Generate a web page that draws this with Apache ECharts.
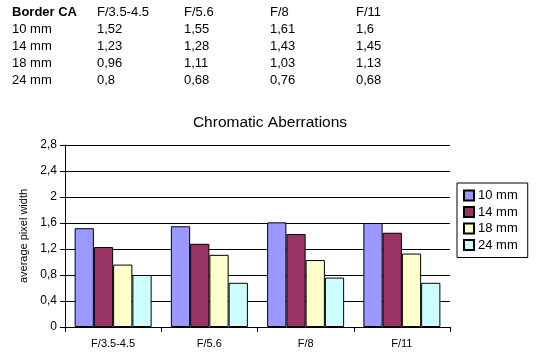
<!DOCTYPE html>
<html><head><meta charset="utf-8">
<script src="https://cdn.jsdelivr.net/npm/echarts@6/dist/echarts.min.js"></script>
<style>html,body{margin:0;padding:0;background:#fff}#c{width:540px;height:359px}</style>
</head><body><div id="c"></div>
<script>
const categories = ['F/3.5-4.5', 'F/5.6', 'F/8', 'F/11'];
const seriesNames = ['10 mm', '14 mm', '18 mm', '24 mm'];
const s10 = [1.52, 1.55, 1.61, 1.6];
const s14 = [1.23, 1.28, 1.43, 1.45];
const s18 = [0.96, 1.11, 1.03, 1.13];
const s24 = [0.8, 0.68, 0.76, 0.68];
const colors = ['#9999FF', '#993366', '#FFFFCC', '#CCFFFF'];
const tableHeader = 'Border CA';

const fmt = v => String(Math.round(v * 100) / 100).replace('.', ',');
const allSeries = [s10, s14, s18, s24];
const font = '"Liberation Sans", Arial, Helvetica, sans-serif';

// table as graphic text
const colX = [12, 97, 184, 270, 356];
const rowY = [6, 23, 40, 57, 74];
const graphics = [];
graphics.push({type: 'text', left: colX[0], top: rowY[0], style: {text: tableHeader, font: 'bold 13px ' + font, fill: '#000'}});
categories.forEach((c, j) => graphics.push({type: 'text', left: colX[j + 1], top: rowY[0], style: {text: c, font: '13px ' + font, fill: '#000'}}));
seriesNames.forEach((n, i) => {
  graphics.push({type: 'text', left: colX[0], top: rowY[i + 1], style: {text: n, font: '13px ' + font, fill: '#000'}});
  allSeries[i].forEach((v, j) => graphics.push({type: 'text', left: colX[j + 1], top: rowY[i + 1], style: {text: fmt(v), font: '13px ' + font, fill: '#000'}}));
});

const chart = echarts.init(document.getElementById('c'), null, {renderer: 'canvas'});
chart.setOption({
  animation: false,
  textStyle: {fontFamily: font},
  title: {text: 'Chromatic Aberrations', left: 'center', top: 110, itemGap: 0,
    textStyle: {fontSize: 15.5, fontWeight: 'normal', color: '#000', fontFamily: font}},
  legend: {orient: 'vertical', left: 457, top: 183, width: 70,
    padding: [6, 10, 6, 6], itemWidth: 10, itemHeight: 10, itemGap: 3.5,
    borderColor: '#000', borderWidth: 1, backgroundColor: '#fff',
    icon: 'rect',
    textStyle: {fontSize: 13, color: '#000', fontFamily: font, padding: [0, 0, 0, -1]},
    data: seriesNames},
  grid: {left: 65, right: 90, top: 145, bottom: 32, containLabel: false},
  xAxis: {type: 'category', data: categories, boundaryGap: true,
    axisLine: {lineStyle: {color: '#000', width: 1}},
    axisTick: {show: true, length: 5, lineStyle: {color: '#000'}, alignWithLabel: false},
    axisLabel: {fontSize: 11, color: '#000', margin: 11, fontFamily: font}},
  yAxis: {type: 'value', min: 0, max: 2.8, interval: 0.4,
    name: 'average pixel width', nameLocation: 'middle', nameGap: 33, nameRotate: 90,
    nameTextStyle: {fontSize: 11, color: '#000', fontFamily: font},
    axisLine: {show: true, lineStyle: {color: '#000', width: 1}},
    axisTick: {show: true, length: 5, lineStyle: {color: '#000'}},
    splitLine: {show: true, lineStyle: {color: '#000', width: 1}},
    axisLabel: {fontSize: 12, color: '#000', margin: 8, fontFamily: font,
      formatter: v => String(Math.round(v * 10) / 10).replace('.', ',')}},
  series: seriesNames.map((n, i) => ({
    name: n, type: 'bar', data: allSeries[i],
    barGap: '0%', barCategoryGap: '20%',
    itemStyle: {color: colors[i], borderColor: '#000', borderWidth: 1}
  })),
  graphic: graphics
});
</script></body></html>
